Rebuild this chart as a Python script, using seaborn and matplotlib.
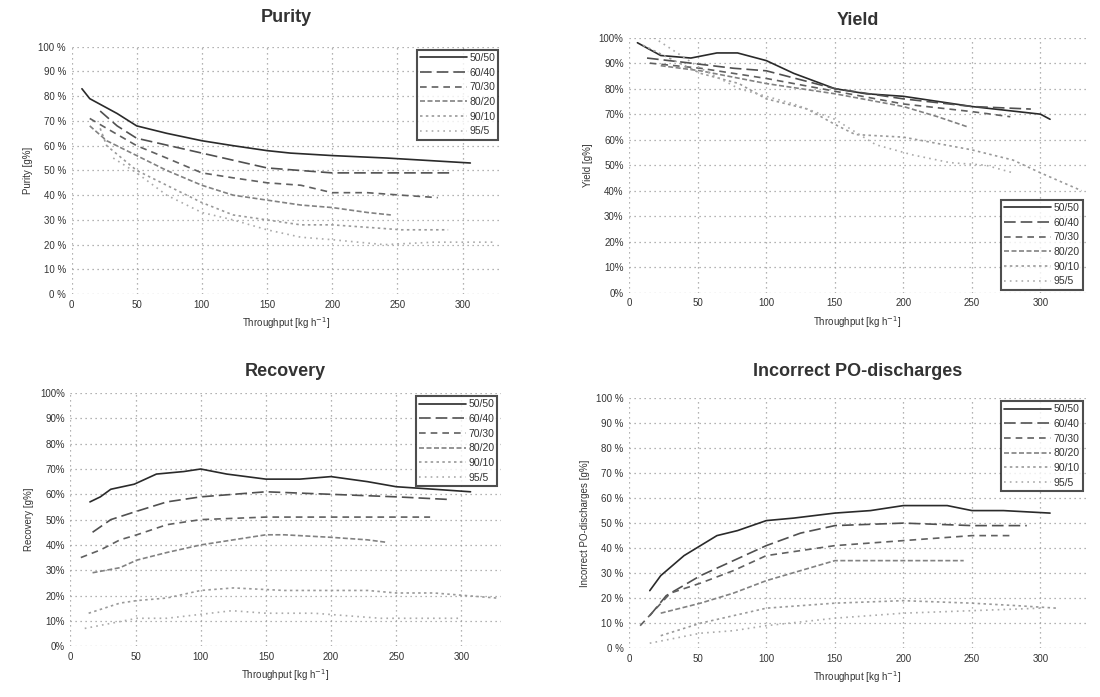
import pandas as pd
import matplotlib.pyplot as plt
import matplotlib.ticker as mticker
import seaborn as sns

# Ratios (legend order)
ratios = ["50/50", "60/40", "70/30", "80/20", "90/10", "95/5"]

# Purity [%] vs throughput [kg/h]
purity_x = {
    "50/50": [8, 14, 35, 50, 73, 100, 124, 150, 168, 200, 242, 306],
    "60/40": [22, 35, 50, 75, 100, 125, 150, 175, 200, 250, 290],
    "70/30": [14, 27, 50, 73, 100, 124, 150, 176, 200, 227, 253, 281],
    "80/20": [14, 27, 50, 73, 100, 124, 150, 176, 200, 227, 245],
    "90/10": [22, 27, 50, 73, 100, 124, 150, 176, 200, 227, 253, 289],
    "95/5": [32, 50, 73, 100, 124, 150, 176, 200, 240, 278, 324],
}
purity_y = {
    "50/50": [83, 79, 73, 68, 65, 62, 60, 58, 57, 56, 55, 53],
    "60/40": [74, 68, 63, 60, 57, 54, 51, 50, 49, 49, 49],
    "70/30": [71, 67, 60, 55, 49, 47, 45, 44, 41, 41, 40, 39],
    "80/20": [68, 62, 56, 50, 44, 40, 38, 36, 35, 33, 32],
    "90/10": [67, 60, 50, 44, 37, 32, 30, 28, 28, 27, 26, 26],
    "95/5": [55, 49, 40, 33, 30, 26, 23, 22, 20, 21, 21],
}

# Yield [%]
yield_x = {
    "50/50": [6, 23, 45, 64, 79, 100, 120, 150, 173, 200, 250, 300, 307],
    "60/40": [13, 45, 76, 100, 150, 200, 250, 293],
    "70/30": [15, 52, 100, 150, 200, 250, 278],
    "80/20": [23, 52, 100, 150, 200, 225, 247],
    "90/10": [10, 52, 80, 100, 130, 150, 165, 200, 250, 280, 300, 330],
    "95/5": [18, 52, 80, 120, 150, 180, 207, 234, 260, 280],
}
yield_y = {
    "50/50": [98, 93, 92, 94, 94, 91, 86, 80, 78, 77, 73, 70, 68],
    "60/40": [92, 90, 88, 87, 80, 76, 73, 72],
    "70/30": [90, 88, 84, 79, 74, 71, 69],
    "80/20": [89, 87, 82, 78, 73, 69, 65],
    "90/10": [97, 86, 82, 76, 72, 66, 62, 61, 56, 52, 47, 40],
    "95/5": [100, 88, 80, 74, 68, 58, 54, 51, 50, 47],
}

# Recovery [%]
recovery_x = {
    "50/50": [15, 23, 31, 49, 66, 87, 100, 120, 150, 176, 200, 228, 250, 279, 307],
    "60/40": [17, 31, 49, 74, 100, 125, 150, 200, 250, 289],
    "70/30": [8, 23, 38, 51, 74, 100, 150, 200, 250, 276],
    "80/20": [17, 38, 51, 74, 100, 125, 150, 164, 200, 228, 243],
    "90/10": [14, 38, 51, 74, 100, 125, 164, 200, 228, 250, 279, 327],
    "95/5": [11, 51, 74, 124, 150, 187, 238, 300],
}
recovery_y = {
    "50/50": [57, 59, 62, 64, 68, 69, 70, 68, 66, 66, 67, 65, 63, 62, 61],
    "60/40": [45, 50, 53, 57, 59, 60, 61, 60, 59, 58],
    "70/30": [35, 38, 42, 44, 48, 50, 51, 51, 51, 51],
    "80/20": [29, 31, 34, 37, 40, 42, 44, 44, 43, 42, 41],
    "90/10": [13, 17, 18, 19, 22, 23, 22, 22, 22, 21, 21, 19],
    "95/5": [7, 11, 11, 14, 13, 13, 11, 11],
}

# Incorrect PO-discharges [%]
incorrect_x = {
    "50/50": [15, 23, 40, 52, 64, 79, 100, 120, 150, 176, 200, 232, 250, 273, 307],
    "60/40": [15, 27, 52, 76, 100, 125, 150, 200, 250, 290],
    "70/30": [8, 30, 52, 76, 100, 125, 150, 200, 250, 278],
    "80/20": [23, 52, 76, 100, 125, 150, 200, 244],
    "90/10": [23, 52, 76, 100, 125, 150, 200, 250, 283, 312],
    "95/5": [15, 52, 76, 100, 150, 200, 250, 300],
}
incorrect_y = {
    "50/50": [23, 29, 37, 41, 45, 47, 51, 52, 54, 55, 57, 57, 55, 55, 54],
    "60/40": [13, 21, 29, 35, 41, 46, 49, 50, 49, 49],
    "70/30": [9, 22, 26, 31, 37, 39, 41, 43, 45, 45],
    "80/20": [14, 18, 22, 27, 31, 35, 35, 35],
    "90/10": [5, 10, 13, 16, 17, 18, 19, 18, 17, 16],
    "95/5": [2, 6, 7, 9, 12, 14, 15, 16],
}

palette = {"50/50": "#2a2a2a", "60/40": "#505050", "70/30": "#606060",
           "80/20": "#828282", "90/10": "#9a9a9a", "95/5": "#ababab"}
dashes = {"50/50": "", "60/40": (7, 3), "70/30": (4, 3), "80/20": (3, 1.5),
          "90/10": (1.5, 2), "95/5": (1, 2.5)}


def to_frame(xs, ys):
    rows = []
    for r in ratios:
        for x, y in zip(xs[r], ys[r]):
            rows.append({"throughput": x, "value": y, "ratio": r})
    return pd.DataFrame(rows)


sns.set_style("white")
plt.rcParams["font.family"] = ["Liberation Sans", "DejaVu Sans"]

fig = plt.figure(figsize=(11, 6.97), dpi=100)

# title, ylabel, x data, y data, axes position, xmax, legend loc, tick suffix, title pad
panels = [
    ("Purity", "Purity [g%]", purity_x, purity_y,
     [0.065, 0.578, 0.391, 0.355], 330, "upper right", " %", 18),
    ("Yield", "Yield [g%]", yield_x, yield_y,
     [0.572, 0.580, 0.415, 0.366], 333, "lower right", "%", 9),
    ("Recovery", "Recovery [g%]", recovery_x, recovery_y,
     [0.064, 0.073, 0.391, 0.363], 330, "upper right", "%", 12),
    ("Incorrect PO-discharges", "Incorrect PO-discharges [g%]",
     incorrect_x, incorrect_y,
     [0.572, 0.070, 0.415, 0.359], 333, "upper right", " %", 16),
]

for title, ylabel, xs, ys, pos, xmax, loc, suffix, tpad in panels:
    ax = fig.add_axes(pos)
    df = to_frame(xs, ys)
    sns.lineplot(data=df, x="throughput", y="value", hue="ratio", style="ratio",
                 hue_order=ratios, style_order=ratios, palette=palette,
                 dashes=dashes, linewidth=1.2, sort=False, ax=ax)
    ax.set_xlim(0, xmax)
    ax.set_ylim(0, 100)
    ax.set_xticks(range(0, 301, 50))
    ax.set_yticks(range(0, 101, 10))
    ax.yaxis.set_major_formatter(mticker.FuncFormatter(
        lambda v, p, s=suffix: f"{int(v)}{s}"))
    ax.grid(True, color="#9a9a9a", linestyle=(0, (1, 3)), linewidth=0.9)
    for sp in ax.spines.values():
        sp.set_visible(False)
    ax.tick_params(length=0, labelsize=7, colors="#333333", pad=4)
    ax.set_title(title, fontsize=13, fontweight="bold", color="#333333", pad=tpad)
    ax.set_xlabel("Throughput [kg h$^{-1}$]", fontsize=7, color="#333333")
    ax.set_ylabel(ylabel, fontsize=7, color="#333333")

    handles, labels = ax.get_legend_handles_labels()
    leg = ax.legend(handles, labels, loc=loc, fontsize=7.5, frameon=True,
                    fancybox=False, handlelength=4.5, handletextpad=0.2,
                    borderpad=0.3, labelspacing=0.45, borderaxespad=0.3)
    leg.get_frame().set_edgecolor("#222222")
    leg.get_frame().set_linewidth(1.5)
    for t in leg.get_texts():
        t.set_color("#333333")

plt.savefig("out.png", dpi=100)
